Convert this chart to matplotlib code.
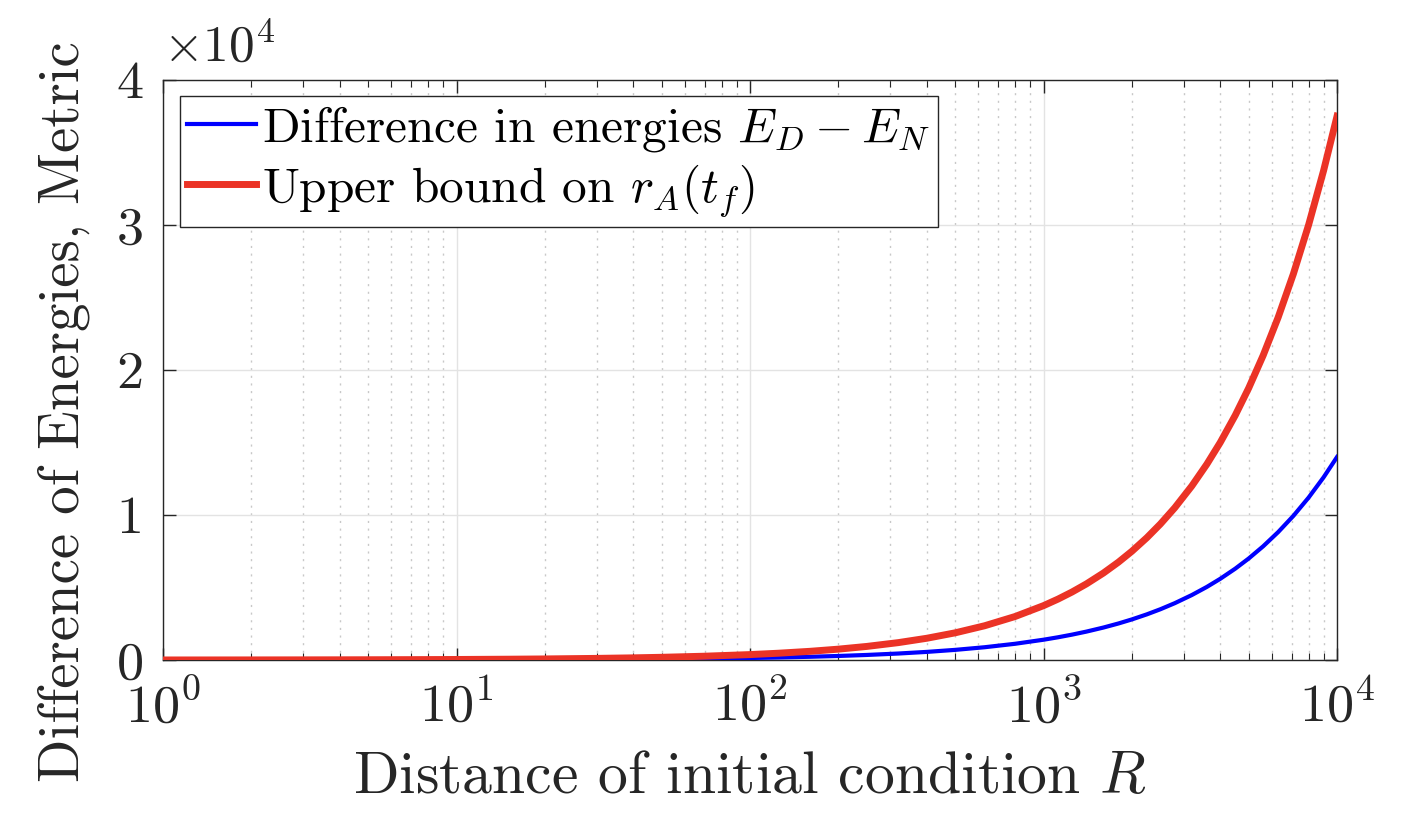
import matplotlib
matplotlib.use("Agg")
import matplotlib.pyplot as plt
from matplotlib.ticker import LogLocator, FixedLocator, FuncFormatter, NullFormatter

plt.rcParams['font.family'] = 'serif'
plt.rcParams['font.serif'] = ['cmr10']
plt.rcParams['mathtext.fontset'] = 'cm'
plt.rcParams['axes.formatter.use_mathtext'] = True
plt.rcParams['axes.unicode_minus'] = False

# Data
R = [1, 1.5, 2, 3, 4, 5, 7, 10, 15, 20, 30, 40, 50, 70,
     100, 125, 160, 200, 250, 320, 400, 500, 630, 800,
     1000, 1120, 1250, 1400, 1600, 1800, 2000, 2250, 2500, 2800, 3200, 3600,
     4000, 4500, 5000, 5600, 6300, 7100, 8000, 9000, 10000]
diff_energy = [1.4, 2.1, 2.8, 4.2, 5.6, 7, 9.8, 14, 21, 28, 42, 56, 70, 98,
               140, 175, 224, 280, 350, 448, 560, 700, 882, 1120,
               1400, 1568, 1750, 1960, 2240, 2520, 2800, 3150, 3500, 3920, 4480, 5040,
               5600, 6300, 7000, 7840, 8820, 9940, 11200, 12600, 14000]
upper_bound = [3.75, 5.6, 7.5, 11.3, 15, 18.8, 26.3, 37.5, 56, 75, 113, 150, 188, 263,
               375, 469, 600, 750, 938, 1200, 1500, 1875, 2363, 3000,
               3750, 4200, 4688, 5250, 6000, 6750, 7500, 8438, 9375, 10500, 12000, 13500,
               15000, 16875, 18750, 21000, 23625, 26625, 30000, 33750, 37500]
labels = [r'Difference in energies $E_D-E_N$', r'Upper bound on $r_A(t_f)$']
xlabel = r'Distance of initial condition $R$'
ylabel = 'Difference of Energies, Metric'

txt = '#262626'
fig = plt.figure(figsize=(14.08, 8.24), dpi=100)
ax = fig.add_axes([0.1158, 0.199, 0.8338, 0.704])

ax.plot(R, diff_energy, color=(0, 0, 1), lw=3.0, label=labels[0], zorder=3)
ax.plot(R, upper_bound, color='#EB3326', lw=5.0, label=labels[1], zorder=3)

ax.set_xscale('log')
ax.set_xlim(1, 1e4)
ax.set_ylim(0, 40000)
ax.yaxis.set_major_locator(FixedLocator([0, 10000, 20000, 30000, 40000]))
ax.yaxis.set_major_formatter(FuncFormatter(lambda v, p: f'{int(round(v / 1e4))}'))
ax.xaxis.set_major_locator(LogLocator(base=10, numticks=10))
ax.xaxis.set_minor_locator(LogLocator(base=10, subs=range(2, 10), numticks=10))
ax.xaxis.set_minor_formatter(NullFormatter())

ax.grid(which='major', color='#e3e3e3', lw=1.0, zorder=0)
ax.grid(which='minor', axis='x', color='#c8c8c8', lw=1.0, ls=(0, (1.5, 4)), zorder=0)
ax.set_axisbelow(True)

for s in ax.spines.values():
    s.set_color('#262626')
    s.set_linewidth(1.0)
ax.tick_params(which='both', direction='in', top=True, right=True, colors=txt,
               labelsize=39)
ax.tick_params(axis='x', pad=14)
ax.tick_params(axis='y', pad=14)
ax.tick_params(which='major', length=9, width=1.0)
ax.tick_params(which='minor', length=5, width=0.8)

fig.text(0.5 * (0.1158 + 0.9496), 31 / 824, xlabel, fontsize=43, color=txt,
         ha='center', va='baseline')
fig.text(64 / 1408, 1 - 412 / 824, ylabel, fontsize=41, color=txt,
         ha='center', va='center', rotation=90)
ax.text(0.0, 1.015, r'$\times 10^4$', transform=ax.transAxes, fontsize=37, color=txt,
        ha='left', va='bottom')

leg = ax.legend(loc='upper left', bbox_to_anchor=(0.0145, 0.972), fontsize=35.5,
                frameon=True, fancybox=False, edgecolor='#262626', framealpha=1,
                handlelength=1.4, handletextpad=0.12, borderpad=0.15,
                labelspacing=0.18, borderaxespad=0.0)
leg.get_frame().set_linewidth(1.0)
for t in leg.get_texts():
    t.set_color('black')

fig.savefig('out.png', dpi=100)
